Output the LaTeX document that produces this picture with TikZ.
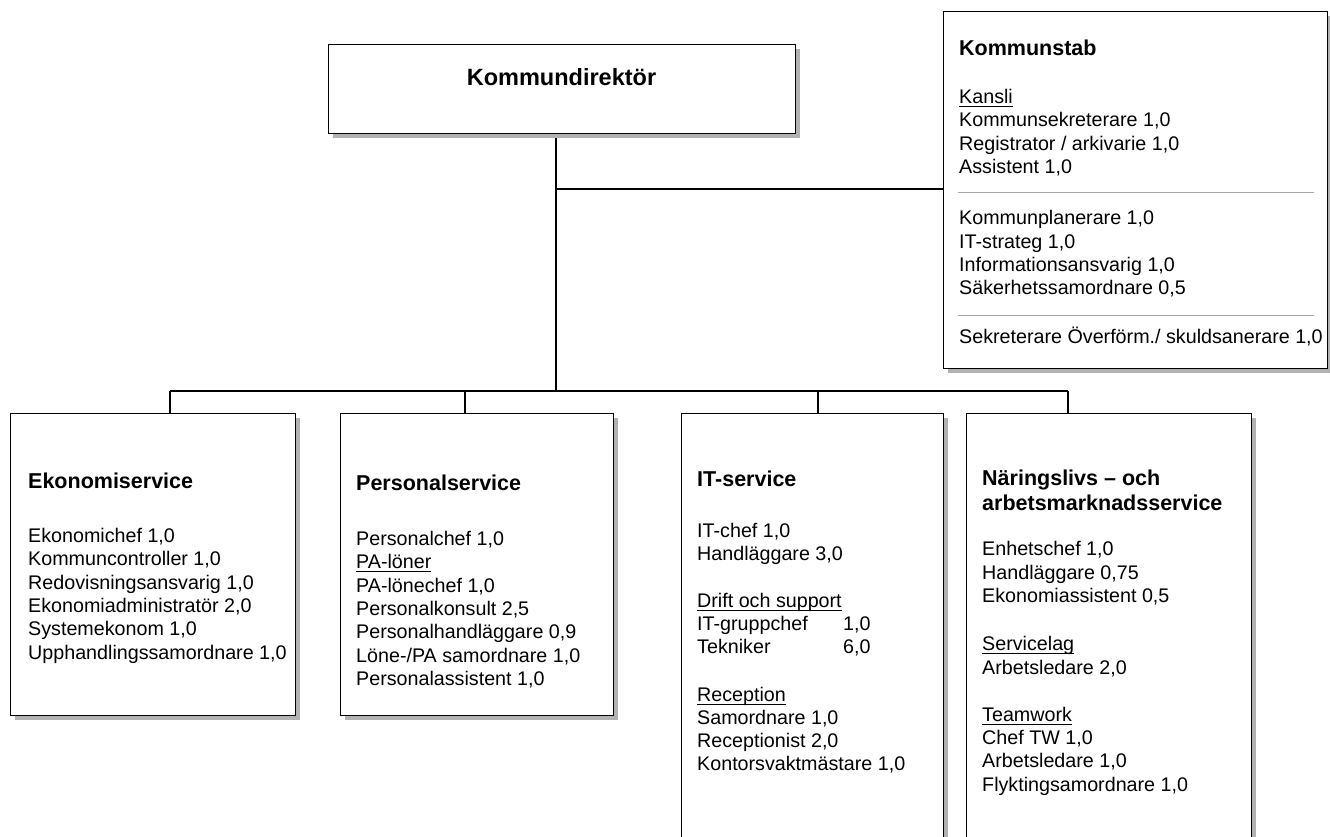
\documentclass[tikz,border=0pt]{standalone}
\usepackage{fontspec}
\setmainfont{Liberation Sans}
\usetikzlibrary{shadows,calc}
\pgfdeclarelayer{background}
\pgfsetlayers{background,main}
\newcommand{\uln}[1]{\setbox0\hbox{#1}\rlap{\rule[-3.5pt]{\wd0}{0.9pt}}\box0}
\newcommand{\txt}{\fontsize{19.7}{23.3}\selectfont}
\newcommand{\headcont}[1]{{\bfseries\fontsize{21.5}{23.3}\selectfont #1}}
\newcommand{\head}[1]{\rule{0pt}{20pt}\headcont{#1}}
\tikzstyle{unit}=[draw,line width=1.3pt,fill=white,inner sep=0pt,anchor=north west,
  drop shadow={shadow xshift=4pt,shadow yshift=-4pt,fill=black!30,opacity=1}]
\tikzstyle{staff}=[anchor=north west,align=left,inner sep=0pt,font=\txt]
\tikzstyle{line}=[draw,line width=1.3pt]
\tikzstyle{divider}=[draw,gray!70,line width=0.6pt]

\begin{document}
\begin{tikzpicture}[x=1pt,y=-1pt]
    \clip (0,0) rectangle (1330,836);
    % the boxes
    \node[unit,minimum width=467pt,minimum height=89pt] (dir) at (328,44) {};
    \node[unit,minimum width=384pt,minimum height=357pt] (stab) at (943,11) {};
    \node[unit,minimum width=285pt,minimum height=302pt] (eko) at (10,413) {};
    \node[unit,minimum width=273pt,minimum height=302pt] (pers) at (340,413) {};
    \node[unit,minimum width=262pt,minimum height=460pt] (it) at (681,413) {};
    \node[unit,minimum width=285pt,minimum height=460pt] (nar) at (966,413) {};

    % texts in the boxes
    \node[font=\bfseries\fontsize{23.5}{26}\selectfont,inner sep=0pt] (dir text) at (561.5,77) {Kommundirektör};
    \node[staff] (stab text) at ($(stab.north west)+(16,24)$) {\head{Kommunstab}\\[25pt]
        \uln{Kansli}\\ Kommunsekreterare 1,0\\ Registrator / arkivarie 1,0\\ Assistent 1,0\\[28pt]
        Kommunplanerare 1,0\\ IT-strateg 1,0\\ Informationsansvarig 1,0\\ Säkerhetssamordnare 0,5\\[26pt]
        Sekreterare Överförm./ skuldsanerare 1,0};
    \node[staff] (eko text) at ($(eko.north west)+(18,55)$) {\head{Ekonomiservice}\\[31pt]
        Ekonomichef 1,0\\ Kommuncontroller 1,0\\ Redovisningsansvarig 1,0\\
        Ekonomiadministratör 2,0\\ Systemekonom 1,0\\ Upphandlingssamordnare 1,0};
    \node[staff] (pers text) at ($(pers.north west)+(16,57)$) {\head{Personalservice}\\[32pt]
        Personalchef 1,0\\ \uln{PA-löner}\\ PA-lönechef 1,0\\ Personalkonsult 2,5\\
        Personalhandläggare 0,9\\ Löne-/PA samordnare 1,0\\ Personalassistent 1,0};
    \node[staff] (it text) at ($(it.north west)+(16,53)$) {\head{IT-service}\\[28pt]
        IT-chef 1,0\\ Handläggare 3,0\\[23pt]
        \uln{Drift och support}\\ \makebox[146pt][l]{IT-gruppchef}1,0\\ \makebox[146pt][l]{Tekniker}6,0\\[24pt]
        \uln{Reception}\\ Samordnare 1,0\\ Receptionist 2,0\\ Kontorsvaktmästare 1,0};
    \node[staff] (nar text) at ($(nar.north west)+(16,52)$) {\head{Näringslivs – och}\\[2pt]
        \headcont{arbetsmarknadsservice}\\[22pt]
        Enhetschef 1,0\\ Handläggare 0,75\\ Ekonomiassistent 0,5\\[25pt]
        \uln{Servicelag}\\ Arbetsledare 2,0\\[24pt]
        \uln{Teamwork}\\ Chef TW 1,0\\ Arbetsledare 1,0\\ Flyktingsamordnare 1,0};

    % dividers in Kommunstab
    \path[divider] ($(stab.north west)+(15,181)$) -- ($(stab.north east)+(-14,181)$);
    \path[divider] ($(stab.north west)+(15,304)$) -- ($(stab.north east)+(-14,304)$);

    % connect the boxes
    \coordinate (split) at (556,189);
    \coordinate (bus) at (556,391);
    \coordinate (eko drop) at (170,391);
    \coordinate (pers drop) at (465,391);
    \coordinate (it drop) at (818,391);
    \coordinate (nar drop) at (1068,391);
    \begin{pgfonlayer}{background}
    \path[line] (dir.south -| bus) -- (bus);
    \path[line] (split) -- (split -| stab.west);
    \path[line] (eko drop) -- (nar drop);
    \foreach \unit in {eko,pers,it,nar}
        \path[line] (\unit\space drop) -- (\unit\space drop |- \unit.north);
    \end{pgfonlayer}
\end{tikzpicture}
\end{document}
